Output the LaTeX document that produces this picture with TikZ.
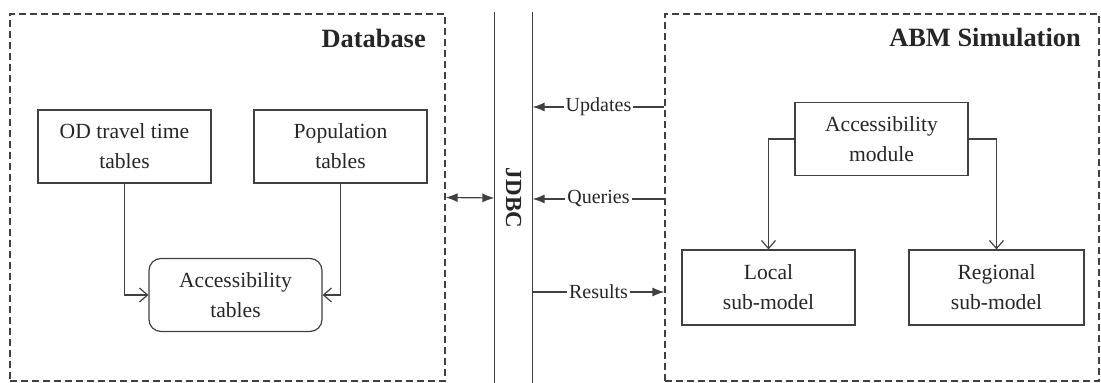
\documentclass[tikz,border=0pt]{standalone}
\usepackage{fontspec}
\setmainfont{Liberation Serif}
\usetikzlibrary{arrows,arrows.meta}

\begin{document}
\begin{tikzpicture}[x=0.5pt,y=-0.5pt,draw=black!75,text=black!85,line width=0.6pt]
    \tikzstyle{container}=[draw,dash pattern=on 3.5pt off 2pt,minimum width=217.5pt,minimum height=183.5pt,inner sep=0pt]
    \tikzstyle{table}=[draw,minimum width=86.5pt,minimum height=36.5pt,inner sep=0pt,align=center,font=\fontsize{10.8}{15}\selectfont]
    \tikzstyle{title}=[anchor=east,font=\fontsize{13.2}{15}\selectfont\bfseries]
    \tikzstyle{flow}=[-{Straight Barb[length=4pt,width=7pt]}]
    \tikzstyle{link}=[>={Latex[length=6pt,width=4.5pt]}]
    \tikzstyle{tag}=[fill=white,inner sep=1pt,font=\fontsize{10}{12}\selectfont]
    \useasboundingbox (0,0) rectangle (1101,383);

    % Draw the database side
    \node[container] (db) at (227.5,197.5) {};
    \node[title] (dbt) at (433,38) {Database};
    \node[table] (od) at (124.5,146.5) {OD travel time\\tables};
    \node[table] (pop) at (340.5,146.5) {Population\\tables};
    \node[table,rounded corners=6pt] (acct) at (235.5,295) {Accessibility\\tables};

    % Build the accessibility tables from the two inputs
    \draw[flow] (od) |- (acct);
    \draw[flow] (pop) |- (acct);

    % Draw the JDBC bar
    \node[minimum width=18.5pt,minimum height=185pt,inner sep=0pt] (jdbc) at (513.5,198) {};
    \draw[line width=0.8pt] (jdbc.north west) -- (jdbc.south west);
    \draw[line width=0.8pt] (jdbc.north east) -- (jdbc.south east);
    \node[rotate=-90,font=\fontsize{11.5}{13}\selectfont\bfseries] (jdbct) at (jdbc.center) {JDBC};

    % Draw the simulation side
    \node[container,minimum width=217pt] (abm) at (882,197.5) {};
    \node[title] (abmt) at (1088,38) {ABM Simulation};
    \node[table] (mod) at (881.5,139) {Accessibility\\module};
    \node[table,minimum height=37.5pt] (loc) at (768.5,287.5) {Local\\sub-model};
    \node[table,minimum width=87.5pt,minimum height=37.5pt] (reg) at (996.5,287.5) {Regional\\sub-model};

    % Feed both sub-models from the module
    \draw[flow] (mod) -| (loc);
    \draw[flow] (mod) -| (reg);

    % Connect both sides through JDBC
    \coordinate (upd) at (0,107);
    \coordinate (qry) at (0,199);
    \coordinate (res) at (0,292);
    \draw[link,<->] (db.east) -- (jdbc.west);
    \draw[link,<-] (jdbc.east |- upd) -- node[tag] {Updates} (abm.west |- upd);
    \draw[link,<-] (jdbc.east |- qry) -- node[tag] {Queries} (abm.west |- qry);
    \draw[link,->] (jdbc.east |- res) -- node[tag] {Results} (abm.west |- res);

\end{tikzpicture}
\end{document}
